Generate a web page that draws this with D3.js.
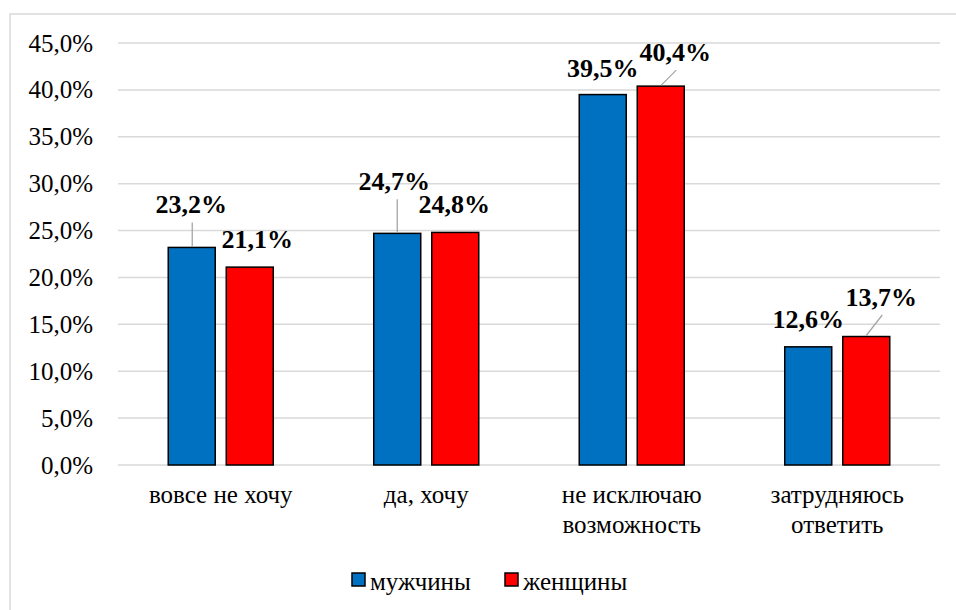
<!DOCTYPE html>
<html><head><meta charset="utf-8">
<script src="https://cdn.jsdelivr.net/npm/d3@7"></script>
</head><body style="margin:0">
<script>
const categories = [["вовсе не хочу"], ["да, хочу"], ["не исключаю", "возможность"], ["затрудняюсь", "ответить"]];
const seriesNames = ["мужчины", "женщины"];
const men = [23.2, 24.7, 39.5, 12.6];
const women = [21.1, 24.8, 40.4, 13.7];
const yTicks = [0, 5, 10, 15, 20, 25, 30, 35, 40, 45];
const colors = ["#0070C0", "#FF0000"];

(function(){
const labelPos = [
  [[-0.5, -34, true, 0.5, 0.5], [7.5, -19, false]],
  [[-3, -43, true, 0, 0], [-1, -19, false]],
  [[0, -18, false], [14.5, -25, true, 15.5, 0.5]],
  [[0, -19, false], [15, -30.5, true, 16, 0]]
];
const FF = '"Liberation Serif", "Times New Roman", Tinos, serif';
const setFont = (sel, size, bold) => sel
  .style("font-family", FF, "important")
  .style("font-size", size + "px", "important")
  .style("font-weight", bold ? "bold" : "normal", "important");

const W = 956, H = 610;
const svg = d3.select("body").append("svg").attr("width", W).attr("height", H)
  .style("display", "block");
svg.append("rect").attr("x", 10).attr("y", 14).attr("width", 960).attr("height", 620)
  .attr("fill", "#fff").attr("stroke", "#d9d9d9").attr("stroke-width", 1.5);

const pl = 118, pr = 940, pt = 43, pb = 465;
const y = d3.scaleLinear().domain([0, 45]).range([pb, pt]);
const x0 = d3.scaleBand().domain(d3.range(categories.length)).range([pl, pr]).paddingInner(0.489).paddingOuter(0.2445);
const x1 = d3.scaleBand().domain(d3.range(2)).range([0, x0.bandwidth()]).paddingInner(0.19);

svg.selectAll("line.grid").data(yTicks).join("line").attr("class", "grid")
  .attr("x1", pl).attr("x2", pr)
  .attr("y1", d => y(d)).attr("y2", d => y(d))
  .attr("stroke", "#d9d9d9").attr("stroke-width", 1.5);

const fmt = d => d3.format(".1f")(d).replace(".", ",") + "%";

yTicks.forEach(d => {
  setFont(svg.append("text")
    .attr("x", 93).attr("y", y(d)).attr("dy", "0.34em").attr("text-anchor", "end")
    .attr("fill", "#000").text(fmt(d)), 25, false);
});

categories.forEach((c, i) => {
  [men[i], women[i]].forEach((v, s) => {
    const bx = x0(i) + x1(s);
    svg.append("rect").attr("x", bx).attr("width", x1.bandwidth())
      .attr("y", y(v)).attr("height", y(0) - y(v))
      .attr("fill", colors[s]).attr("stroke", "#000").attr("stroke-width", 1.5);
  });
});

categories.forEach((c, i) => {
  [men[i], women[i]].forEach((v, s) => {
    const p = labelPos[i][s];
    const cx = x0(i) + x1(s) + x1.bandwidth() / 2;
    const ty = y(v);
    const lx = cx + p[0], ly = ty + p[1];
    if (p[2]) {
      svg.append("line").attr("x1", cx + p[3]).attr("y1", ly + 9).attr("x2", cx + p[4]).attr("y2", ty - 1)
        .attr("stroke", "#a6a6a6").attr("stroke-width", 1.3);
    }
    setFont(svg.append("text").attr("x", lx).attr("y", ly)
      .attr("text-anchor", "middle").attr("fill", "#000").text(fmt(v)), 26, true);
  });
});

categories.forEach((lines, i) => {
  lines.forEach((ln, k) => {
    setFont(svg.append("text").attr("text-anchor", "middle").attr("fill", "#000")
      .attr("x", x0(i) + x0.bandwidth() / 2).attr("y", 503 + k * 30).text(ln), 25, false);
  });
});

const legendX = [352, 505];
seriesNames.forEach((n, s) => {
  svg.append("rect").attr("x", legendX[s]).attr("y", 573).attr("width", 13).attr("height", 13)
    .attr("fill", colors[s]).attr("stroke", "#000").attr("stroke-width", 1.5);
  setFont(svg.append("text").attr("x", legendX[s] + 18).attr("y", 590)
    .attr("fill", "#000").text(n), 25, false);
});
})();
</script>
</body></html>
